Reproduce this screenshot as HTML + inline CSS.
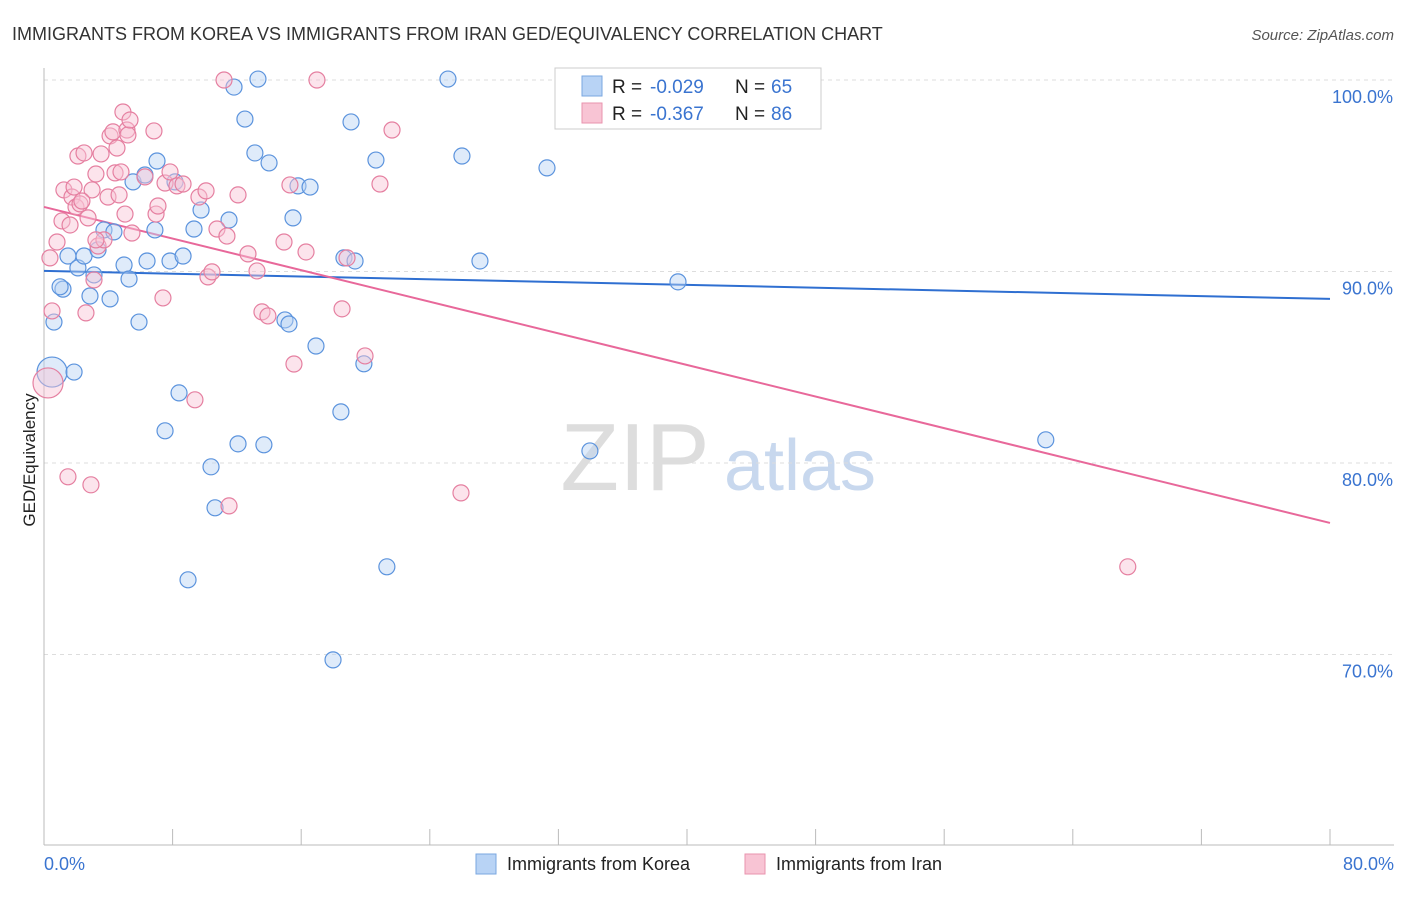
<!DOCTYPE html>
<html><head><meta charset="utf-8"><style>
body{margin:0;background:#fff;font-family:"Liberation Sans",sans-serif}
svg text{font-family:"Liberation Sans",sans-serif}
</style></head><body>
<svg width="1406" height="892" viewBox="0 0 1406 892">
<text x="12" y="40" font-size="18" fill="#333">IMMIGRANTS FROM KOREA VS IMMIGRANTS FROM IRAN GED/EQUIVALENCY CORRELATION CHART</text>
<text x="1394" y="40" font-size="15" fill="#555" font-style="italic" text-anchor="end">Source: ZipAtlas.com</text>
<text x="35" y="460" font-size="17" fill="#222" transform="rotate(-90 35 460)" text-anchor="middle">GED/Equivalency</text>
<g><text x="635" y="490" font-size="96" fill="#ddd" font-family="Liberation Serif" text-anchor="middle">ZIP</text><text x="800" y="490" font-size="72" fill="#c8d8ee" text-anchor="middle">atlas</text></g>
<g id="grid"></g><g id="axes"></g><g id="lines"></g><g id="pts"></g>
<g>
<rect x="555" y="68" width="266" height="61" fill="#fff" stroke="#ccc"/>
<rect x="582" y="76" width="20" height="20" fill="#b8d3f5" stroke="#7aa7e0"/>
<rect x="582" y="103" width="20" height="20" fill="#f8c4d4" stroke="#e993ae"/>
<text x="612" y="93" font-size="19" fill="#222">R =</text>
<text x="650" y="93" font-size="19" fill="#3a74d0">-0.029</text>
<text x="735" y="93" font-size="19" fill="#222">N =</text>
<text x="771" y="93" font-size="19" fill="#3a74d0">65</text>
<text x="612" y="120" font-size="19" fill="#222">R =</text>
<text x="650" y="120" font-size="19" fill="#3a74d0">-0.367</text>
<text x="735" y="120" font-size="19" fill="#222">N =</text>
<text x="771" y="120" font-size="19" fill="#3a74d0">86</text>
</g>
<g>
<rect x="476" y="854" width="20" height="20" fill="#b8d3f5" stroke="#7aa7e0"/>
<text x="507" y="870" font-size="18" fill="#222">Immigrants from Korea</text>
<rect x="745" y="854" width="20" height="20" fill="#f8c4d4" stroke="#e993ae"/>
<text x="776" y="870" font-size="18" fill="#222">Immigrants from Iran</text>
</g>
</svg>
<script>
const yTicks=[100,90,80,70];
const xTickLabels=["0.0%","80.0%"];
const koreaX=[0.5,0.62,1.18,1.87,1.49,2.11,2.49,2.86,3.11,3.36,3.73,4.11,4.35,4.98,5.29,5.54,5.91,6.28,6.41,6.9,7.03,7.53,7.84,8.15,8.4,8.65,8.96,9.33,9.77,10.39,10.64,11.51,11.82,12.07,12.5,13.12,13.31,13.68,14.0,14.99,15.24,15.49,15.8,16.55,16.92,17.98,18.47,18.66,19.1,19.35,19.9,20.65,21.33,25.13,26.0,27.12,31.29,33.96,39.44,62.32,1.0];
const koreaY=[84.75,87.36,89.08,84.75,90.81,90.19,90.81,88.72,89.82,91.13,92.17,88.57,92.07,90.34,89.61,94.68,87.36,95.04,90.55,92.17,95.77,81.68,90.55,94.68,83.66,90.81,73.9,92.22,93.21,79.8,77.66,92.69,99.63,81.0,97.96,96.19,100.05,80.95,95.67,87.47,87.26,92.8,94.47,94.41,86.11,69.72,82.67,90.71,97.81,90.55,85.18,95.82,74.58,100.05,96.03,90.55,95.41,80.63,89.46,81.21,89.2];
const iranX=[0.25,0.37,0.5,0.81,1.12,1.24,1.49,1.62,1.74,1.99,2.11,2.24,2.49,2.61,2.74,2.92,2.99,3.11,3.23,3.36,3.55,3.73,3.98,4.11,4.29,4.42,4.54,4.67,4.79,4.91,5.04,5.16,5.22,5.35,5.47,6.28,6.84,6.97,7.09,7.4,7.53,7.84,8.27,8.65,9.39,9.64,10.08,10.2,10.45,10.76,11.38,11.51,12.07,12.69,13.25,13.56,13.93,14.93,15.3,15.55,16.3,16.98,18.54,18.85,19.97,20.9,21.65,25.94,67.42,1.87,2.36,3.23,11.2];
const iranY=[84.18,90.71,87.94,91.54,92.64,94.26,79.28,92.43,93.89,93.37,96.03,93.53,96.19,87.84,92.8,78.86,94.26,89.56,95.09,91.33,96.14,91.65,93.89,97.08,97.29,95.15,96.45,94.0,95.2,98.33,93.0,97.39,97.13,97.91,92.01,94.94,97.34,93.0,93.42,88.62,94.62,95.2,94.47,94.57,83.3,93.89,94.21,89.72,89.98,92.22,91.85,77.76,94.0,90.92,90.03,87.89,87.68,91.54,94.52,85.17,91.02,100.0,88.05,90.71,85.59,94.57,97.39,78.44,74.58,94.41,93.68,91.65,100.0];
const koreaTrend=[90.03,88.57];
const iranTrend=[93.37,76.87];
const NS="http://www.w3.org/2000/svg";
const X=v=>44+v/80*1286, Y=v=>80+(100-v)*19.15;
function mk(t,a,p){const e=document.createElementNS(NS,t);for(const k in a)e.setAttribute(k,a[k]);document.getElementById(p).appendChild(e);return e;}
yTicks.forEach(t=>{
 const l=mk('line',{x1:44,x2:1394,y1:Y(t),y2:Y(t),stroke:'#ddd','stroke-dasharray':'4 4'},'grid');
 
 
 const tx=mk('text',{x:1393,y:Y(t)+23,'font-size':18,fill:'#3a74d0','text-anchor':'end'},'grid');tx.textContent=t.toFixed(1)+'%';
 
 
});
let ax=mk('line',{x1:44,x2:44,y1:68,y2:845,stroke:'#bbb'},'axes');


let bx=mk('line',{x1:44,x2:1394,y1:845,y2:845,stroke:'#bbb'},'axes');


for(let i=0;i<=10;i++){const t=mk('line',{x1:X(i*8),x2:X(i*8),y1:829,y2:845,stroke:'#bbb'},'axes');
 
 }
[[0,'start',44],[80,'end',1394]].forEach((d,i)=>{const t=mk('text',{x:d[2],y:870,'font-size':18,fill:'#3a74d0','text-anchor':d[1]},'axes');t.textContent=xTickLabels[i];
 
 });
function pts(xs,ys,fill,stroke,name){xs.forEach((x,i)=>{const c=mk('circle',{cx:X(x),cy:Y(ys[i]),r:i===0?15:8,fill:fill,'fill-opacity':0.45,stroke:stroke,'stroke-width':1.2},'pts');
 
 });}
pts(koreaX,koreaY,'#b8d3f5','#5b93dd','korea-point');
pts(iranX,iranY,'#f8c4d4','#e57fa0','iran-point');
let l1=mk('line',{x1:X(0),x2:X(80),y1:Y(koreaTrend[0]),y2:Y(koreaTrend[1]),stroke:'#2f6fd1','stroke-width':2},'lines');


let l2=mk('line',{x1:X(0),x2:X(80),y1:Y(iranTrend[0]),y2:Y(iranTrend[1]),stroke:'#e8689a','stroke-width':2},'lines');


</script>
</body></html>
